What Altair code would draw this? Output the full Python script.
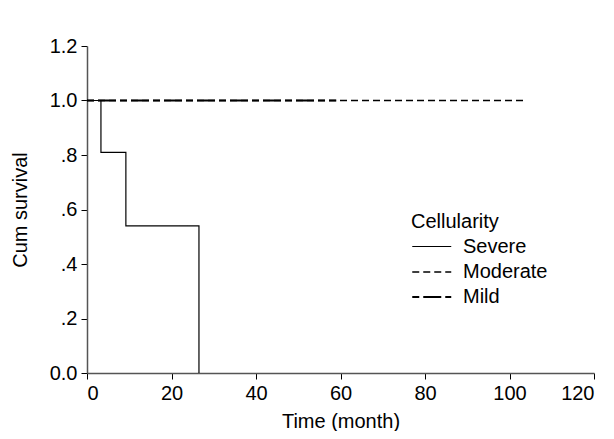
import altair as alt
import pandas as pd

groups = ["Severe", "Moderate", "Mild"]
severe_time = [0, 3.3, 9.2, 26.5]
severe_surv = [1.0, 0.81, 0.54, 0.0]
moderate_time = [0, 104]
moderate_surv = [1.0, 1.0]
mild_time = [0, 59]
mild_surv = [1.0, 1.0]

rows = []
for g, ts, ss in [("Severe", severe_time, severe_surv),
                  ("Moderate", moderate_time, moderate_surv),
                  ("Mild", mild_time, mild_surv)]:
    for i, (t, s) in enumerate(zip(ts, ss)):
        rows.append({"group": g, "time": t, "surv": s, "idx": i})
df = pd.DataFrame(rows)

font = "Liberation Sans"
fs = 20

dash_scale = alt.Scale(domain=groups, range=[[1, 0], [7, 4], [18, 4, 7, 4]])
width_scale = alt.Scale(domain=groups, range=[1.2, 2.2, 2.2])

legend = alt.Legend(
    title="Cellularity", orient="none", legendX=324, legendY=166,
    titleFont=font, titleFontSize=fs, titleFontWeight="normal", titleColor="black",
    labelFont=font, labelFontSize=fs, labelColor="black",
    symbolType="M-1,0H3", symbolSize=380, symbolStrokeColor="black",
    symbolFillColor="transparent", symbolDashOffset=22,
    rowPadding=4, labelOffset=30, titlePadding=4, padding=0,
)

chart = alt.Chart(df).mark_line(interpolate="step-after", color="black", strokeDashOffset=22).encode(
    x=alt.X("time:Q", scale=alt.Scale(domain=[0, 120], nice=False),
            axis=alt.Axis(title="Time (month)", values=[0, 20, 40, 60, 80, 100, 120],
                          grid=False, tickSize=6, labelPadding=4, titlePadding=8)),
    y=alt.Y("surv:Q", scale=alt.Scale(domain=[0, 1.2], nice=False),
            axis=alt.Axis(title="Cum survival", values=[0, 0.2, 0.4, 0.6, 0.8, 1.0, 1.2],
                          labelExpr="datum.value == 0 ? '0.0' : (datum.value >= 1 ? format(datum.value, '.1f') : replace(format(datum.value, '.1f'), '0.', '.'))",
                          grid=False, tickSize=6, labelPadding=4, titlePadding=19)),
    strokeDash=alt.StrokeDash("group:N", scale=dash_scale, legend=legend, sort=groups),
    strokeWidth=alt.StrokeWidth("group:N", scale=width_scale, legend=legend, sort=groups),
    order="idx:Q",
).properties(
    width=507, height=327,
    autosize=alt.AutoSizeParams(type="none"),
    padding={"left": 79, "top": 38, "right": 12, "bottom": 58},
).configure_view(stroke=None).configure_axis(
    domainColor="#555", tickColor="black", labelColor="black", titleColor="black",
    labelFont=font, titleFont=font, labelFontSize=fs, titleFontSize=fs,
    titleFontWeight="normal", domainWidth=1.5,
)

chart.save("out.html", embed_options={"renderer": "svg", "actions": False})
